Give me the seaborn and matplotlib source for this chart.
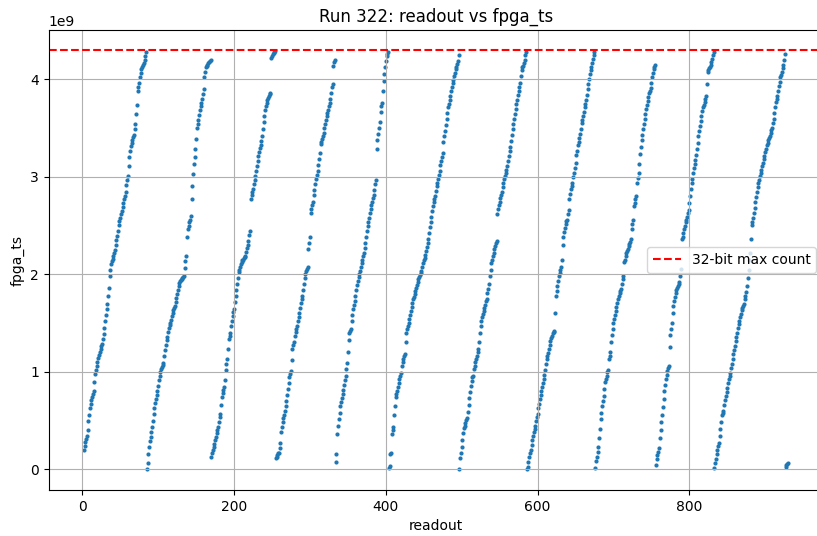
import numpy as np
import pandas as pd
import matplotlib
matplotlib.use("Agg")
import matplotlib.pyplot as plt
import seaborn as sns

# fpga_ts values are stored in units of 1e7 counts; one list per counter wrap.
COUNT_UNIT = 1e7
COUNTER_MAX = 2 ** 32

# first readout number of each wrap of the 32-bit counter
seg_start = [2, 85, 170, 255, 334, 404, 497, 586, 676, 756, 833, 927]

wrap_01 = [20, 24, 28, 31, 34, 40, 49, 56, 63, 67, 71, 74, 77, 80, 89, 98, 102, 106, 110, 114,
           117, 120, 123, 126, 128, 133, 139, 145, 152, 158, 164, 169, 178, 186, 198, 204, 210,
           213, 216, 219, 222, 225, 230, 235, 239, 244, 250, 255, 258, 262, 265, 269, 273, 277,
           280, 284, 291, 297, 301, 311, 320, 326, 331, 335, 338, 341, 343, 349, 354, 364, 374,
           388, 392, 396, 402, 406, 410, 413, 415, 417, 420, 424, 428]
wrap_02 = [0, 6, 15, 23, 29, 33, 38, 43, 49, 57, 63, 68, 72, 76, 80, 85, 91, 96, 100, 103, 105,
           107, 109, 116, 122, 127, 132, 136, 141, 145, 148, 150, 153, 157, 160, 163, 165, 167,
           171, 176, 180, 184, 188, 191, 193, 194, 195, 196, 197, 198, 206, 213, 219, 238, 246,
           249, 253, 256, 260, 277, 290, 303, 313, 320, 328, 339, 350, 354, 358, 363, 368, 372,
           376, 380, 385, 390, 402, 407, 412, 414, 415, 417, 418, 419, 420]
wrap_03 = [12, 16, 20, 23, 26, 30, 33, 37, 40, 43, 48, 53, 57, 66, 74, 78, 81, 84, 91, 102, 108,
           113, 123, 133, 137, 140, 147, 152, 157, 161, 164, 171, 178, 184, 190, 196, 202, 204,
           207, 210, 212, 214, 215, 217, 218, 219, 223, 227, 230, 234, 240, 244, 277, 281, 284,
           287, 292, 297, 301, 306, 311, 316, 321, 325, 329, 332, 337, 342, 349, 356, 362, 368,
           372, 376, 379, 381, 383, 385, 386, 422, 424, 426, 427, 428, 429]
wrap_04 = [11, 12, 14, 16, 17, 22, 27, 38, 43, 48, 52, 55, 60, 65, 70, 76, 82, 88, 94, 98, 101,
           112, 123, 127, 130, 137, 141, 144, 147, 152, 156, 160, 165, 170, 174, 178, 184, 190,
           196, 200, 203, 205, 207, 226, 232, 238, 263, 267, 271, 274, 281, 286, 292, 298, 302,
           306, 312, 318, 324, 333, 336, 339, 342, 345, 350, 354, 358, 362, 365, 368, 372, 376,
           380, 386, 392, 395, 414, 418, 420]
wrap_05 = [7, 15, 36, 44, 51, 58, 65, 69, 73, 77, 81, 86, 91, 96, 103, 109, 120, 132, 140, 142,
           144, 152, 158, 164, 168, 172, 178, 184, 189, 193, 197, 200, 203, 207, 211, 215, 219,
           222, 227, 232, 238, 244, 249, 253, 258, 263, 267, 271, 274, 278, 281, 286, 292, 297,
           328, 338, 344, 350, 356, 366, 372, 376, 388, 398, 405, 412, 419, 424, 426, 428]
wrap_06 = [1, 3, 15, 17, 36, 40, 43, 55, 65, 74, 77, 80, 84, 88, 92, 96, 99, 106, 110, 113, 116,
           118, 130, 140, 144, 147, 150, 154, 158, 162, 166, 170, 174, 177, 180, 183, 186, 189,
           192, 195, 197, 199, 201, 203, 207, 211, 214, 217, 220, 224, 228, 232, 236, 242, 248,
           253, 259, 265, 270, 274, 277, 280, 285, 290, 294, 298, 302, 306, 312, 316, 320, 324,
           336, 342, 347, 353, 359, 365, 371, 375, 379, 383, 388, 392, 396, 399, 403, 406, 410,
           413, 416, 419, 425]
wrap_07 = [0, 11, 17, 23, 30, 37, 42, 44, 47, 50, 52, 59, 66, 73, 79, 85, 90, 94, 96, 103, 106,
           110, 113, 116, 120, 123, 130, 140, 147, 152, 156, 159, 162, 165, 168, 172, 175, 181,
           185, 190, 198, 204, 211, 215, 219, 222, 226, 229, 232, 234, 262, 267, 271, 274, 278,
           281, 284, 289, 294, 298, 301, 304, 307, 311, 316, 321, 326, 330, 337, 343, 349, 354,
           359, 364, 369, 375, 379, 384, 388, 392, 396, 403, 409, 412, 414, 417, 420, 425, 428]
wrap_08 = [0, 2, 7, 12, 16, 20, 25, 30, 34, 38, 41, 44, 49, 53, 57, 63, 67, 72, 76, 80, 84, 88,
           92, 97, 102, 108, 113, 116, 119, 123, 127, 131, 134, 137, 140, 141, 142, 160, 178, 183,
           188, 193, 198, 201, 204, 207, 215, 230, 238, 243, 247, 251, 254, 256, 262, 266, 277,
           282, 287, 290, 294, 300, 304, 309, 314, 322, 326, 332, 336, 340, 344, 349, 355, 358,
           362, 366, 371, 375, 379, 384, 390, 395, 400, 405, 409, 413, 417, 421, 425, 428]
wrap_09 = [1, 8, 12, 18, 23, 32, 41, 51, 58, 65, 70, 75, 82, 89, 92, 96, 100, 102, 113, 116, 120,
           130, 138, 144, 150, 154, 158, 162, 166, 170, 174, 178, 181, 183, 185, 190, 195, 198,
           212, 215, 219, 222, 224, 226, 229, 231, 233, 236, 246, 251, 256, 270, 273, 277, 280,
           294, 299, 304, 313, 323, 330, 338, 343, 349, 354, 359, 364, 369, 373, 378, 382, 386,
           388, 391, 396, 402, 406, 410, 413, 415]
wrap_10 = [4, 10, 14, 18, 22, 32, 40, 48, 55, 64, 72, 80, 86, 92, 97, 101, 104, 106, 125, 138,
           144, 150, 160, 167, 172, 177, 181, 184, 186, 188, 190, 192, 198, 205, 236, 238, 242,
           246, 249, 253, 256, 259, 263, 266, 273, 280, 287, 294, 298, 304, 309, 313, 317, 322,
           328, 335, 342, 347, 352, 357, 362, 367, 371, 374, 377, 380, 383, 395, 407, 409, 411,
           413, 415, 418, 421, 425, 428]
wrap_11 = [1, 6, 10, 15, 20, 24, 27, 34, 41, 48, 55, 58, 60, 66, 71, 75, 79, 83, 88, 92, 96, 99,
           104, 108, 113, 118, 122, 126, 131, 136, 140, 145, 149, 152, 156, 159, 163, 165, 167,
           169, 174, 178, 182, 188, 196, 204, 214, 222, 236, 250, 253, 258, 263, 268, 274, 279,
           284, 289, 294, 297, 301, 304, 307, 311, 314, 318, 321, 325, 328, 332, 335, 338, 340,
           342, 345, 348, 350, 355, 359, 365, 371, 377, 380, 383, 388, 393, 397, 402, 404, 407,
           411, 415, 420, 426]
wrap_12 = [2, 4, 5, 6]

segments = [wrap_01, wrap_02, wrap_03, wrap_04, wrap_05, wrap_06,
            wrap_07, wrap_08, wrap_09, wrap_10, wrap_11, wrap_12]

readout = np.concatenate([start + np.arange(len(vals)) for start, vals in zip(seg_start, segments)])
fpga_ts = np.concatenate([np.asarray(vals, dtype=float) for vals in segments]) * COUNT_UNIT
df = pd.DataFrame({"readout": readout, "fpga_ts": fpga_ts})

fig = plt.figure(figsize=(8.17, 5.36), dpi=100)
ax = fig.add_axes([48.6 / 817, 46 / 536, 774.6 / 817, 460 / 536])

sns.scatterplot(data=df, x="readout", y="fpga_ts", s=9, color="#1f77b4",
                linewidth=0, ax=ax)
ax.axhline(COUNTER_MAX, color="red", linestyle="--", label="32-bit max count")

ax.set_title("Run 322: readout vs fpga_ts")
ax.grid(True)
ax.legend(loc="center right")

fig.savefig("out.png", dpi=100)
